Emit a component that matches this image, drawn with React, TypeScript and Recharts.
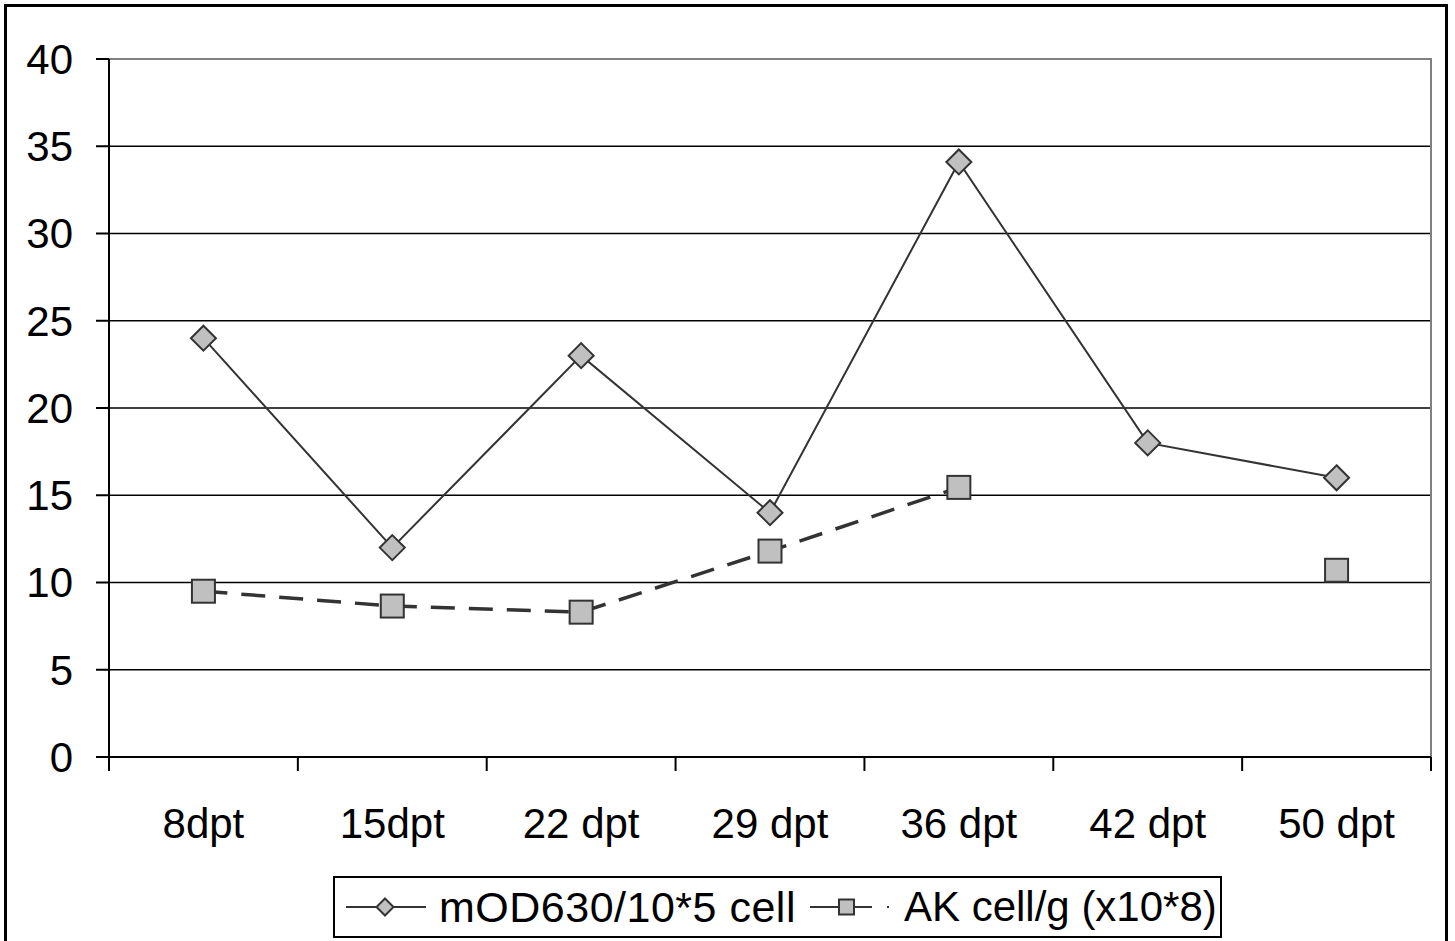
import React from 'react';
import { LineChart, Line, XAxis, YAxis, CartesianGrid, ReferenceLine, ReferenceArea } from 'recharts';

const FONT = '"Liberation Sans", Arial, Helvetica, sans-serif';

// days post treatment
const days = ['8dpt', '15dpt', '22 dpt', '29 dpt', '36 dpt', '42 dpt', '50 dpt'];
const mod630 = [24, 12, 23, 14, 34.1, 18, 16];
const akCells: (number | null)[] = [9.5, 8.65, 8.3, 11.8, 15.45, null, 10.7];
const yTicks = [0, 5, 10, 15, 20, 25, 30, 35, 40];
const seriesNames = ['mOD630/10*5 cell', 'AK cell/g (x10*8)'];

const data = days.map((day, i) => ({ day, mod: mod630[i], ak: akCells[i] }));

const MARK_FILL = '#c0c0c0';
const MARK_STROKE = '#333333';

const Diamond = (props: any) => {
  const { cx, cy, index } = props;
  if (cx == null || cy == null) return <g key={`dm-${index}`} />;
  const r = 12.5;
  return (
    <path
      key={`dm-${index}`}
      d={`M${cx},${cy - r}L${cx + r},${cy}L${cx},${cy + r}L${cx - r},${cy}Z`}
      fill={MARK_FILL}
      stroke={MARK_STROKE}
      strokeWidth={2}
    />
  );
};

const Square = (props: any) => {
  const { cx, cy, index, value } = props;
  if (cx == null || cy == null || value == null) return <g key={`sq-${index}`} />;
  const h = 11.5;
  return (
    <rect
      key={`sq-${index}`}
      x={cx - h}
      y={cy - h}
      width={h * 2}
      height={h * 2}
      fill={MARK_FILL}
      stroke={MARK_STROKE}
      strokeWidth={2}
    />
  );
};

// category label centred in its band, with tick marks on the band edges
const DayTick = (props: any) => {
  const { x, y, payload, width, visibleTicksCount, index } = props;
  const band = width / visibleTicksCount;
  const left = x - band / 2;
  const right = x + band / 2;
  return (
    <g>
      <line x1={left} y1={y} x2={left} y2={y + 14} stroke="#000" strokeWidth={2} />
      {index === visibleTicksCount - 1 && (
        <line x1={right} y1={y} x2={right} y2={y + 14} stroke="#000" strokeWidth={2} />
      )}
      <text x={x} y={y + 51} dy="0.71em" textAnchor="middle" fill="#000" fontSize={42} fontFamily={FONT}>
        {payload.value}
      </text>
    </g>
  );
};

function LegendBox() {
  return (
    <div
      style={{
        position: 'absolute',
        left: 333,
        top: 876,
        width: 885,
        height: 58,
        border: '2px solid #000',
        background: '#fff',
        display: 'flex',
        alignItems: 'center',
        fontFamily: FONT,
        color: '#000',
        whiteSpace: 'nowrap',
      }}
    >
      <svg width={80} height={30} style={{ marginLeft: 11, flex: 'none' }}>
        <line x1={0} y1={15} x2={80} y2={15} stroke={MARK_STROKE} strokeWidth={2} />
        <path d="M39,6.5L47.5,15L39,23.5L30.5,15Z" fill={MARK_FILL} stroke={MARK_STROKE} strokeWidth={2} />
      </svg>
      <span style={{ marginLeft: 13, fontSize: 43, letterSpacing: 0.5 }}>{seriesNames[0]}</span>
      <svg width={82} height={30} style={{ marginLeft: 14, flex: 'none' }}>
        <line x1={0} y1={15} x2={82} y2={15} stroke={MARK_STROKE} strokeWidth={2} strokeDasharray="62 15 2 100" />
        <rect x={29} y={7.5} width={15} height={15} fill={MARK_FILL} stroke={MARK_STROKE} strokeWidth={2} />
      </svg>
      <span style={{ marginLeft: 12, fontSize: 42 }}>{seriesNames[1]}</span>
    </div>
  );
}

export default function App() {
  return (
    <div
      style={{
        position: 'absolute',
        left: 0,
        top: 0,
        width: 1455,
        height: 941,
        overflow: 'hidden',
        background: '#fff',
      }}
    >
      <div
        style={{
          position: 'absolute',
          left: 4,
          top: 4,
          width: 1438,
          height: 1000,
          border: '3px solid #000',
        }}
      />
      <div style={{ position: 'absolute', left: 0, top: 0 }}>
        <LineChart
          width={1455}
          height={941}
          data={data}
          margin={{ top: 59, right: 24, left: 0, bottom: 183 }}
          style={{ fontFamily: FONT }}
        >
          <CartesianGrid vertical={false} stroke="#000" strokeWidth={1.5} />
          {/* grey plot-area frame (top and right edges) */}
          <ReferenceArea
            x1={days[0]}
            x2={days[days.length - 1]}
            y1={0}
            y2={40}
            fill="none"
            stroke="#808080"
            strokeWidth={2}
          />
          <ReferenceLine y={40} stroke="#808080" strokeWidth={2} />
          <XAxis
            dataKey="day"
            scale="band"
            height={1}
            tickLine={false}
            tickSize={0}
            tickMargin={0}
            axisLine={{ stroke: '#000', strokeWidth: 2 }}
            tick={DayTick}
            interval={0}
          />
          <YAxis
            width={109}
            domain={[0, 40]}
            ticks={yTicks}
            tickSize={13}
            tickMargin={23}
            axisLine={{ stroke: '#000', strokeWidth: 2 }}
            tickLine={{ stroke: '#000', strokeWidth: 2 }}
            tick={{ fill: '#000', fontSize: 42, fontFamily: FONT }}
          />
          <Line
            dataKey="ak"
            name={seriesNames[1]}
            stroke={MARK_STROKE}
            strokeWidth={3.5}
            strokeDasharray="24 14"
            dot={Square}
            activeDot={false}
            isAnimationActive={false}
            connectNulls={false}
          />
          <Line
            dataKey="mod"
            name={seriesNames[0]}
            stroke={MARK_STROKE}
            strokeWidth={2}
            dot={Diamond}
            activeDot={false}
            isAnimationActive={false}
          />
        </LineChart>
      </div>
      <LegendBox />
    </div>
  );
}
